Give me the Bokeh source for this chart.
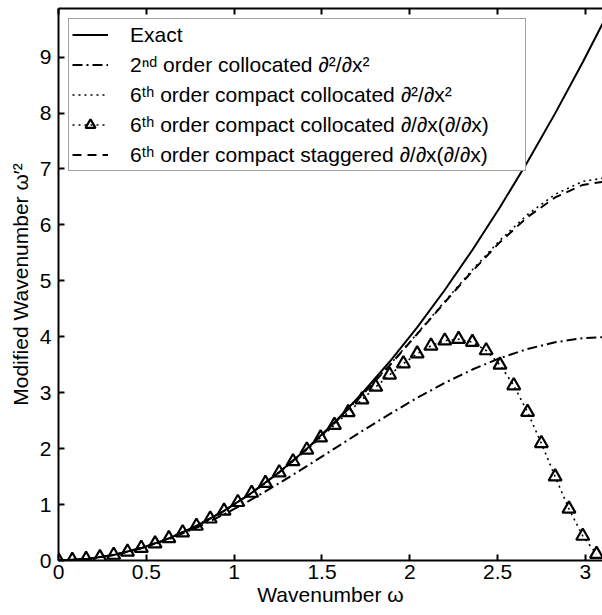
from bokeh.plotting import figure
from bokeh.models import LinearAxis, Legend, LegendItem, Range1d, FixedTicker
from bokeh.embed import file_html
from bokeh.resources import INLINE

# ---- data ----
w_curve = [0.0, 0.1571, 0.3142, 0.4712, 0.6283, 0.7854, 0.9425, 1.0996, 1.2566, 1.4137,
           1.5708, 1.7279, 1.8850, 2.0420, 2.1991, 2.3562, 2.5133, 2.6704, 2.8274, 2.9845, 3.1416]
exact = [0.0, 0.0247, 0.0987, 0.2221, 0.3948, 0.6169, 0.8883, 1.2090, 1.5791, 1.9986,
         2.4674, 2.9856, 3.5531, 4.1699, 4.8361, 5.5517, 6.3165, 7.1308, 7.9944, 8.9073, 9.8696]
second_coll = [0.0, 0.0246, 0.0979, 0.2180, 0.3820, 0.5858, 0.8244, 1.0920, 1.3820, 1.6871,
               2.0000, 2.3129, 2.6180, 2.9080, 3.1756, 3.4142, 3.6180, 3.7820, 3.9021, 3.9754, 4.0000]
sixth_comp_coll_d2 = [0.0, 0.0247, 0.0987, 0.2221, 0.3948, 0.6168, 0.8881, 1.2083, 1.5771, 1.9932,
                      2.4545, 2.9574, 3.4955, 4.0589, 4.6330, 5.1974, 5.7256, 6.1865, 6.5472, 6.7777, 6.8571]
sixth_comp_stag = [0.0, 0.0247, 0.0987, 0.2221, 0.3948, 0.6168, 0.8880, 1.2083, 1.5768, 1.9926,
                   2.4532, 2.9547, 3.4862, 4.0496, 4.6176, 5.1736, 5.6916, 6.1413, 6.4917, 6.7149, 6.7916]

w_tri = [0.0, 0.0785, 0.1571, 0.2356, 0.3142, 0.3927, 0.4712, 0.5498, 0.6283, 0.7069,
         0.7854, 0.8639, 0.9425, 1.0210, 1.0996, 1.1781, 1.2566, 1.3352, 1.4137, 1.4923,
         1.5708, 1.6493, 1.7279, 1.8064, 1.8850, 1.9635, 2.0420, 2.1206, 2.1991, 2.2777,
         2.3562, 2.4347, 2.5133, 2.5918, 2.6704, 2.7489, 2.8274, 2.9060, 2.9845, 3.0631]
sixth_comp_coll_dd = [0.0, 0.0062, 0.0247, 0.0555, 0.0987, 0.1542, 0.2221, 0.3023, 0.3948, 0.4996,
                      0.6167, 0.7461, 0.8876, 1.0412, 1.2067, 1.3837, 1.5720, 1.7708, 1.9792, 2.1961,
                      2.4198, 2.6477, 2.8768, 3.1029, 3.3202, 3.5218, 3.6983, 3.8390, 3.9303, 3.9572,
                      3.9037, 3.7545, 3.4974, 3.1279, 2.6528, 2.0956, 1.4988, 0.9229, 0.4385, 0.1142]

labels = ["Exact",
          "2ⁿᵈ order collocated ∂²/∂x²",
          "6ᵗʰ order compact collocated ∂²/∂x²",
          "6ᵗʰ order compact collocated ∂/∂x(∂/∂x)",
          "6ᵗʰ order compact staggered ∂/∂x(∂/∂x)"]

x_ticks = [0, 0.5, 1, 1.5, 2, 2.5, 3]
x_tick_labels = ["0", "0.5", "1", "1.5", "2", "2.5", "3"]
y_ticks = [0, 1, 2, 3, 4, 5, 6, 7, 8, 9]
y_tick_labels = ["0", "1", "2", "3", "4", "5", "6", "7", "8", "9"]

FONT = "Liberation Sans"
FS = "21px"

p = figure(width=602, height=615, x_range=Range1d(0, 3.097), y_range=Range1d(0, 9.8696),
           output_backend="svg", toolbar_location=None,
           min_border_left=58, min_border_right=0, min_border_top=8, min_border_bottom=55)
p.outline_line_color = None
p.xgrid.grid_line_color = None
p.ygrid.grid_line_color = None
p.background_fill_color = "white"
p.border_fill_color = "white"

for ax in (p.xaxis[0], p.yaxis[0]):
    ax.major_tick_in = 6
    ax.major_tick_out = 0
    ax.minor_tick_line_color = None
    ax.axis_line_width = 2
    ax.major_tick_line_width = 2
    ax.major_label_text_font = FONT
    ax.major_label_text_font_size = FS
    ax.major_label_text_color = "black"
    ax.axis_label_text_font = FONT
    ax.axis_label_text_font_size = FS
    ax.axis_label_text_font_style = "normal"
    ax.axis_label_text_color = "black"

p.xaxis.ticker = FixedTicker(ticks=x_ticks)
p.xaxis.major_label_overrides = {t: l for t, l in zip(x_ticks, x_tick_labels)}
p.yaxis.ticker = FixedTicker(ticks=y_ticks)
p.yaxis.major_label_overrides = {t: l for t, l in zip(y_ticks, y_tick_labels)}
p.xaxis.axis_label = "Wavenumber ω"
p.yaxis.axis_label = "Modified Wavenumber ω′²"
p.xaxis.major_label_standoff = 4
p.xaxis.axis_label_standoff = 1
p.yaxis.major_label_standoff = 7
p.yaxis.axis_label_standoff = 5

# top box edge with inward ticks, no labels
top = LinearAxis(ticker=FixedTicker(ticks=x_ticks), major_label_text_font_size="1px",
                 major_label_text_color=None, major_label_standoff=0,
                 major_tick_in=6, major_tick_out=0,
                 minor_tick_line_color=None, axis_line_width=2, major_tick_line_width=2)
p.add_layout(top, "above")

r_exact = p.line(w_curve, exact, line_color="black", line_width=2)
r_2nd = p.line(w_curve, second_coll, line_color="black", line_width=2, line_dash="10 4 2 4")
r_6d2 = p.line(w_curve, sixth_comp_coll_d2, line_color="black", line_width=1.6, line_dash="2 4")
r_6dd_line = p.line(w_tri, sixth_comp_coll_dd, line_color="black", line_width=1.6, line_dash="2 4")
r_6dd_mark = p.scatter(w_tri, sixth_comp_coll_dd, marker="triangle", size=13,
                       line_color="black", line_width=2.2, fill_color=None)
r_stag = p.line(w_curve, sixth_comp_stag, line_color="black", line_width=2, line_dash="9 6")

items = [LegendItem(label=labels[0], renderers=[r_exact]),
         LegendItem(label=labels[1], renderers=[r_2nd]),
         LegendItem(label=labels[2], renderers=[r_6d2]),
         LegendItem(label=labels[3], renderers=[r_6dd_line, r_6dd_mark]),
         LegendItem(label=labels[4], renderers=[r_stag])]
legend = Legend(items=items, location="top_left", margin=10, padding=3, spacing=5,
                glyph_width=36, glyph_height=25, label_height=25, label_width=392,
                label_standoff=22,
                label_text_font=FONT, label_text_font_size=FS, label_text_color="black",
                border_line_color="#444444", border_line_width=1,
                background_fill_color="white", background_fill_alpha=1)
p.add_layout(legend)

open("out.html", "w").write(file_html(p, INLINE))
